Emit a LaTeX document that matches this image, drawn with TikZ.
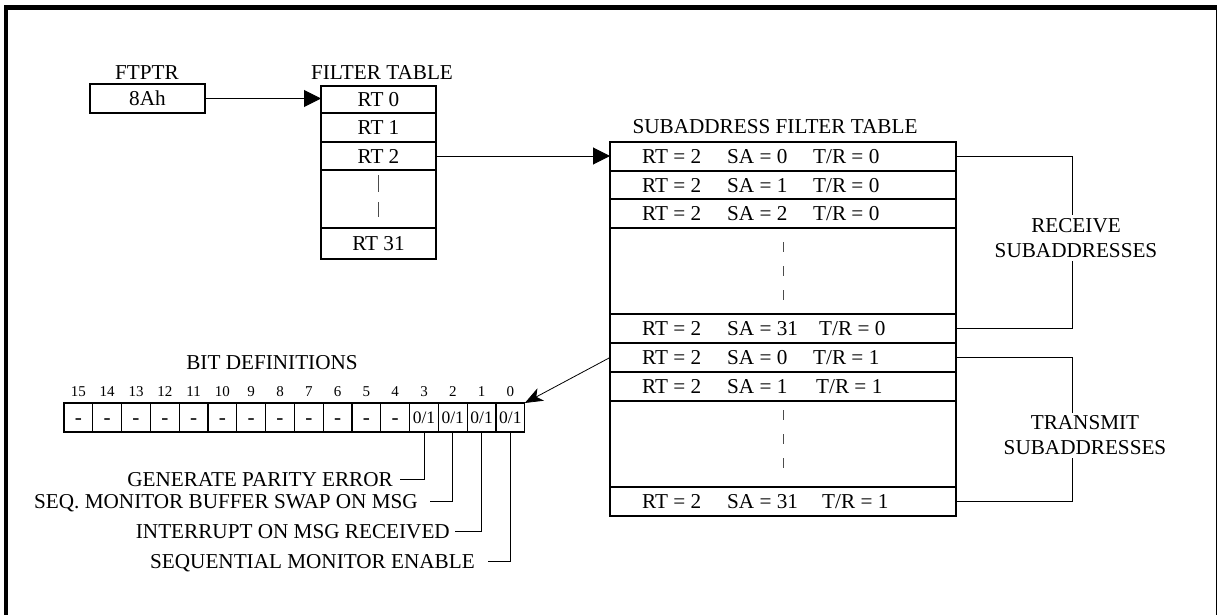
\documentclass[tikz,border=0pt]{standalone}
\usepackage{fontspec}
\setmainfont{Liberation Serif}
\usetikzlibrary{arrows.meta}
\begin{document}
\begin{tikzpicture}[x=1pt,y=-1pt,
  font=\fontsize{21.2}{23}\selectfont,
  cell/.style={draw, line width=1.1pt, inner sep=0pt, outer sep=0pt, text height=14pt, text depth=0pt},
  txt/.style={inner sep=0pt, text height=14pt, text depth=0pt},
  lab/.style={inner sep=0pt, text height=14pt, text depth=0pt, anchor=east},
  lead/.style={line width=0.9pt},
  dots/.style={draw=black!70, line width=1pt, dash pattern=on 10pt off 14pt},
  bigarrow/.style={line width=1pt, -{Triangle[length=17pt,width=17pt]}},
  sidelab/.style={fill=white, inner sep=3pt, align=center, font=\fontsize{21.2}{25}\selectfont}
]
\useasboundingbox (0,0) rectangle (1217,615);
% outer frame
\draw[line width=4.5pt] (6,7.5) rectangle (1217.8,660);

% FTPTR
\node[txt] (ftl) at (147,73) {FTPTR};
\node[cell, minimum width=115pt, minimum height=29pt] (ptr) at (147.5,98.5) {8Ah};

% Filter table
\node[txt] (fttl) at (382,73) {FILTER TABLE};
\node[cell, minimum width=115pt, minimum height=27pt] (ft0) at (378.5,99.5) {RT 0};
\node[cell, minimum width=115pt, minimum height=29pt] (ft1) at (378.5,127.5) {RT 1};
\node[cell, minimum width=115pt, minimum height=28pt] (ft2) at (378.5,156) {RT 2};
\node[cell, minimum width=115pt, minimum height=58pt] (fd) at (378.5,199) {};
\node[cell, minimum width=115pt, minimum height=31pt] (ft31) at (378.5,243.5) {RT 31};
\draw[dots, dash pattern=on 17pt off 10pt] ([yshift=-5pt]fd.north) -- ([yshift=11pt]fd.south);

\draw[bigarrow] (ptr.east) -- (ptr.east -| ft0.west);

% Subaddress filter table
\node[txt] (satl) at (775,127) {SUBADDRESS FILTER TABLE};
\foreach \n/\c/\h/\sa/\tr/\tx in {s0/156.5/29/0/0/813, s1/185/28/1/0/813, s2/213.5/29/2/0/813,
    s31/328.5/29/31/0/819, t0/357.5/29/0/1/813, t1/386.5/29/1/1/816, t31/501.5/29/31/1/822} {
  \node[cell, minimum width=346pt, minimum height=\h pt] (\n) at (783,\c) {};
  \node[anchor=base west, inner sep=0pt] (\n-rt) at (642,\c+7) {RT = 2};
  \node[anchor=base west, inner sep=0pt] (\n-sa) at (727,\c+7) {SA = \sa};
  \node[anchor=base west, inner sep=0pt] (\n-tr) at (\tx,\c+7) {T/R = \tr};
}
\node[cell, minimum width=346pt, minimum height=86pt] (sd1) at (783,271) {};
\node[cell, minimum width=346pt, minimum height=86pt] (sd2) at (783,444) {};
\draw[dots] ([yshift=-14pt]sd1.north) -- ([yshift=4pt]sd1.south);
\draw[dots] ([yshift=-9pt]sd2.north) -- ([yshift=5pt]sd2.south);

\draw[bigarrow] (ft2.east) -- (ft2.east -| s0.west);

% brackets
\coordinate (bx) at (1072,0);
\draw[lead] (s0.east) -- (s0.east -| bx) |- (s31.east);
\draw[lead] (t0.east) -- (t0.east -| bx) |- (t31.east);
\node[sidelab] (rcv) at (1076,238) {RECEIVE\\SUBADDRESSES};
\node[sidelab] (trm) at (1085,435.5) {TRANSMIT\\SUBADDRESSES};

% bit definitions
\node[txt] (bdl) at (272,362) {BIT DEFINITIONS};
\foreach \i in {0,...,15} {
  \pgfmathtruncatemacro{\bb}{15-\i}
  \ifnum\bb<4
    \node[cell, minimum width=28.8pt, minimum height=29pt, font=\fontsize{17.5}{18}\selectfont, text height=12pt] (b\bb) at ({64+28.8*(\i+0.5)},417.5) {0/1};
  \else
    \node[cell, minimum width=28.8pt, minimum height=29pt] (b\bb) at ({64+28.8*(\i+0.5)},417.5) {-};
  \fi
  \node[inner sep=0pt, font=\fontsize{15}{16}\selectfont] (n\bb) at ({64+28.8*(\i+0.5)},392) {\bb};
}

\draw[line width=0.8pt, -{Stealth[length=18pt,width=14pt,inset=5pt]}] (t0.west) -- (b0.north east);

% leader labels
\node[lab] (g3) at (393,479) {GENERATE PARITY ERROR};
\node[lab] (g2) at (418,501) {SEQ. MONITOR BUFFER SWAP ON MSG};
\node[lab] (g1) at (450,531) {INTERRUPT ON MSG RECEIVED};
\node[lab] (g0) at (475,561) {SEQUENTIAL MONITOR ENABLE};
\draw[lead] (b3.south) |- ([xshift=7pt]g3.east);
\draw[lead] (b2.south) |- ([xshift=12pt]g2.east);
\draw[lead] (b1.south) |- ([xshift=5pt]g1.east);
\draw[lead] (b0.south) |- ([xshift=13pt]g0.east);
\end{tikzpicture}
\end{document}
